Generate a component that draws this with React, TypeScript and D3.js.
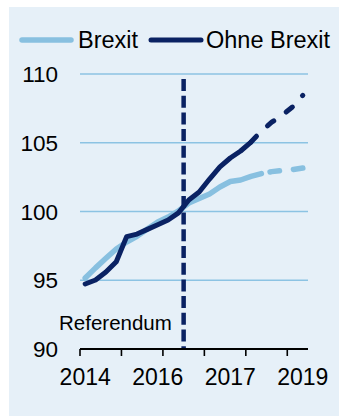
import React from "react";
import * as d3 from "d3";

const quarters = [
  "2014Q2", "2014Q3", "2014Q4", "2015Q1", "2015Q2", "2015Q3", "2015Q4", "2016Q1",
  "2016Q2", "2016Q3", "2016Q4", "2017Q1", "2017Q2", "2017Q3", "2017Q4", "2018Q1",
  "2018Q2", "2018Q3", "2018Q4", "2019Q1", "2019Q2", "2019Q3",
];
const brexit = [
  95.16, 95.9, 96.6, 97.27, 97.78, 98.2, 98.73, 99.24, 99.6, 100.04, 100.62,
  100.95, 101.27, 101.78, 102.18, 102.29, 102.55, 102.76, 102.9, 102.98, 103.05, 103.16,
];
const ohneBrexit = [
  94.73, 95.02, 95.6, 96.35, 98.17, 98.36, 98.7, 99.04, 99.38, 99.9, 100.84,
  101.42, 102.36, 103.24, 103.89, 104.4, 105.05, 105.85, 106.5, 107.0, 107.6, 108.45,
];
const forecastStartDark = "2018Q2";
const forecastStartLight = "2018Q3";
const referendumQuarter = "2016Q4";
const yTicks = [90, 95, 100, 105, 110];
const xTickLabelQuarters = ["2014Q2", "2016Q1", "2017Q4", "2019Q3"];
const xTickLabels = ["2014", "2016", "2017", "2019"];
const seriesNames = ["Brexit", "Ohne Brexit"];

const W = 339;
const H = 416;
const LIGHT = "#88C0E0";
const DARK = "#0A2263";
const BG = "#E6F0F8";
const GRID = "#8CC3E3";
const FONT = "'Liberation Sans', Arial, sans-serif";

function pathLength(pts: [number, number][]) {
  let L = 0;
  for (let i = 1; i < pts.length; i++) {
    L += Math.hypot(pts[i][0] - pts[i - 1][0], pts[i][1] - pts[i - 1][1]);
  }
  return L;
}

export default function App() {
  const x = d3.scaleBand<string>().domain(quarters).range([80, 308]).padding(0);
  const xc = (q: string) => (x(q) as number) + x.bandwidth() / 2;
  const y = d3.scaleLinear().domain([90, 110]).range([349, 74]);

  const toPts = (vals: number[]) => quarters.map((q, i) => [xc(q), y(vals[i])] as [number, number]);
  const lightPts = toPts(brexit);
  const darkPts = toPts(ohneBrexit);
  const line = d3.line<[number, number]>();

  const fD = quarters.indexOf(forecastStartDark);
  const fL = quarters.indexOf(forecastStartLight);

  const darkFc = darkPts.slice(fD);
  const darkL = pathLength(darkFc);
  const darkPeriod = (darkL - 0.5) / 3;
  const darkDash = `8 ${darkPeriod - 8}`;

  const lightFc = lightPts.slice(fL);
  const lightL = pathLength(lightFc);
  const lDash = 9.5;
  const lPeriod = 23.5;
  // place last dash so it ends at the end of the line
  const lightOffset = ((lDash - lightL) % lPeriod + lPeriod) % lPeriod;

  const tickQs = quarters.filter((_, i) => i % 4 === 0);
  const refX = x(referendumQuarter) as number;

  return (
    <svg
      width={W}
      height={H}
      style={{ position: "absolute", left: 0, top: 0 }}
      fontFamily={FONT}
    >
      <rect x={0} y={0} width={W} height={H} fill="#ffffff" />
      <rect x={9} y={7} width={W - 9} height={H - 7} fill={BG} />

      {/* legend */}
      <line x1={22} x2={71} y1={40} y2={40} stroke={LIGHT} strokeWidth={5.5} strokeLinecap="round" />
      <text x={78} y={48} fontSize={23.5} fill="#000">{seriesNames[0]}</text>
      <line x1={151} x2={201} y1={40} y2={40} stroke={DARK} strokeWidth={5} strokeLinecap="round" />
      <text x={206} y={48} fontSize={23.5} fill="#000">{seriesNames[1]}</text>

      {/* gridlines */}
      {yTicks.filter((t) => t > 90).map((t) => (
        <line key={t} x1={80} x2={308} y1={y(t)} y2={y(t)} stroke={GRID} strokeWidth={1.6} />
      ))}
      {/* y labels */}
      {yTicks.map((t) => (
        <text key={t} x={58} y={y(t) + 8} fontSize={22.5} textAnchor="end" fill="#000">{t}</text>
      ))}

      {/* series */}
      <path d={line(lightPts.slice(0, fL + 1)) as string} fill="none" stroke={LIGHT} strokeWidth={5.5} strokeLinejoin="round" strokeLinecap="round" />
      <path d={line(lightFc) as string} fill="none" stroke={LIGHT} strokeWidth={5.5} strokeLinejoin="round" strokeLinecap="round" strokeDasharray={`${lDash} ${lPeriod - lDash}`} strokeDashoffset={lightOffset} />
      <path d={line(darkPts.slice(0, fD + 1)) as string} fill="none" stroke={DARK} strokeWidth={5} strokeLinejoin="round" strokeLinecap="round" />
      <path d={line(darkFc) as string} fill="none" stroke={DARK} strokeWidth={5} strokeLinejoin="round" strokeLinecap="round" strokeDasharray={darkDash} />

      {/* referendum */}
      <line x1={refX} x2={refX} y1={79} y2={350} stroke={DARK} strokeWidth={4.5} strokeDasharray="12 4.7" />
      <text x={59} y={330} fontSize={20.5} fill="#000">Referendum</text>

      {/* x axis */}
      <line x1={80} x2={308} y1={349} y2={349} stroke="#000" strokeWidth={2} />
      {tickQs.map((q) => (
        <line key={q} x1={x(q) as number} x2={x(q) as number} y1={349} y2={356} stroke="#000" strokeWidth={1.6} />
      ))}
      {xTickLabelQuarters.map((q, i) => (
        <text key={q} x={xc(q)} y={385} fontSize={23} textAnchor="middle" fill="#000">{xTickLabels[i]}</text>
      ))}
    </svg>
  );
}
